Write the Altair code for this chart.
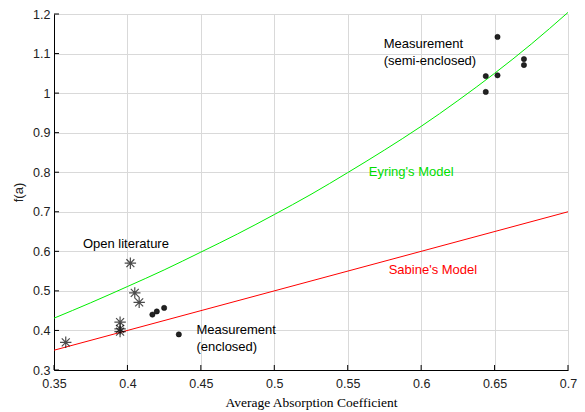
import altair as alt
import pandas as pd

# Open-literature samples (asterisks)
lit_a = [0.358, 0.402, 0.405, 0.408, 0.395, 0.395, 0.395]
lit_f = [0.370, 0.570, 0.495, 0.471, 0.421, 0.404, 0.397]

# Enclosed measurements
enc_a = [0.417, 0.420, 0.425, 0.435]
enc_f = [0.440, 0.448, 0.457, 0.390]

# Semi-enclosed measurements
semi_a = [0.652, 0.644, 0.652, 0.644, 0.670, 0.670]
semi_f = [1.142, 1.043, 1.045, 1.003, 1.086, 1.071]

# Eyring's model curve
eyr_a = [0.35, 0.375, 0.40, 0.425, 0.45, 0.475, 0.50, 0.525, 0.55, 0.575,
         0.60, 0.625, 0.65, 0.675, 0.70]
eyr_f = [0.431, 0.470, 0.511, 0.553, 0.598, 0.644, 0.693, 0.744, 0.799,
         0.856, 0.916, 0.981, 1.050, 1.124, 1.204]

# Sabine's model line
sab_a = [0.35, 0.70]
sab_f = [0.35, 0.70]

x_ticks = [0.35, 0.4, 0.45, 0.5, 0.55, 0.6, 0.65, 0.7]
y_ticks = [0.3, 0.4, 0.5, 0.6, 0.7, 0.8, 0.9, 1.0, 1.1, 1.2]

labels = pd.DataFrame({
    "a": [0.5745, 0.5643, 0.5779, 0.3697, 0.4470],
    "f": [1.139, 0.816, 0.568, 0.634, 0.416],
    "text": ["Measurement\n(semi-enclosed)", "Eyring's Model", "Sabine's Model",
             "Open literature", "Measurement\n(enclosed)"],
    "color": ["#000000", "#00dd00", "#ff0000", "#000000", "#000000"],
})

W, H = 514, 356
xs = alt.Scale(domain=[0.35, 0.7], nice=False, zero=False)
ys = alt.Scale(domain=[0.3, 1.2], nice=False, zero=False)

FONT = "Liberation Sans"

x_axis = alt.Axis(
    values=x_ticks, tickCount=8, title="Average Absorption Coefficient",
    titleFont="Liberation Serif", titleFontSize=13.5, titleColor="#000",
    titlePadding=6, labelPadding=7)
y_axis = alt.Axis(
    values=y_ticks, tickCount=10, title="f(a)", titleFont=FONT, titleFontSize=13,
    titleColor="#222", titlePadding=7, labelPadding=4)


def xy(c):
    return c.encode(x=alt.X("a:Q", scale=xs, axis=x_axis),
                    y=alt.Y("f:Q", scale=ys, axis=y_axis))


eyring = xy(alt.Chart(pd.DataFrame({"a": eyr_a, "f": eyr_f})).mark_line(
    color="#00ee00", strokeWidth=1, interpolate="monotone"))

sabine = xy(alt.Chart(pd.DataFrame({"a": sab_a, "f": sab_f})).mark_line(
    color="#ff0000", strokeWidth=1))

asterisk = "M-1,0L1,0M0,-1L0,1M-0.7,-0.7L0.7,0.7M-0.7,0.7L0.7,-0.7"
lit = xy(alt.Chart(pd.DataFrame({"a": lit_a, "f": lit_f})).mark_point(
    shape=asterisk, size=130, color="#000", strokeWidth=1.2, filled=False))

dots = xy(alt.Chart(pd.DataFrame({"a": enc_a + semi_a, "f": enc_f + semi_f})).mark_circle(
    size=28, color="#222", opacity=1, stroke="#000", strokeWidth=0.5))

text = xy(alt.Chart(labels).mark_text(
    align="left", baseline="top", font=FONT, fontSize=13, lineHeight=17,
    lineBreak="\n"
)).encode(text="text:N", color=alt.Color("color:N", scale=None))

# Inward tick marks along the bottom and left axes
xt = alt.Chart(pd.DataFrame({"a": x_ticks})).mark_rule(color="#000", strokeWidth=1).encode(
    x=alt.X("a:Q", scale=xs, axis=x_axis), y=alt.value(H), y2=alt.value(H - 5))
yt = alt.Chart(pd.DataFrame({"f": y_ticks})).mark_rule(color="#000", strokeWidth=1).encode(
    y=alt.Y("f:Q", scale=ys, axis=y_axis), x=alt.value(0), x2=alt.value(5))

chart = alt.layer(eyring, sabine, dots, lit, text, xt, yt).properties(
    width=W, height=H,
    autosize=alt.AutoSizeParams(type="none"),
    padding={"left": 54, "top": 14, "right": 17, "bottom": 42},
).configure_view(stroke=None).configure(background="white").configure_axis(
    labelOverlap=False, labelFlush=False, labelFont=FONT, labelFontSize=12.5,
    labelColor="#222", tickSize=0, domainColor="#000", gridColor="#d9d9d9",
    gridWidth=1, format="~g", titleFontWeight="normal"
)

chart.save("out.html", embed_options={"renderer": "svg", "actions": False})
